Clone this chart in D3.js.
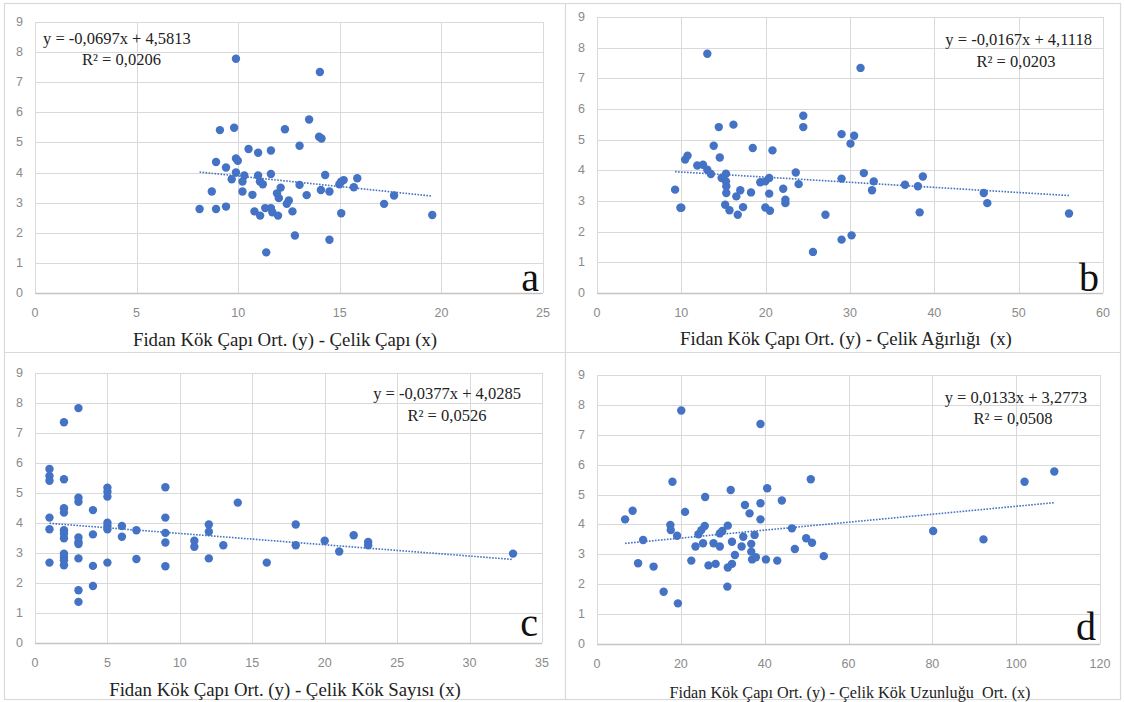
<!DOCTYPE html>
<html lang='tr'>
  <head>
    <meta charset='utf-8'>
    <title>Fidan Kök Çapı</title>
    <script src="https://d3js.org/d3.v7.min.js" charset='utf-8'></script>
    <style type="text/css">
      body { margin: 0; background: #fff; }
      svg { display: block; }
      .grid line { stroke: #d9d9d9; stroke-width: 1px; }
      .tick-label { font-family: 'Liberation Sans', sans-serif; font-size: 12.5px; fill: #8a8a8a; }
      .eq { font-family: 'Liberation Serif', serif; font-size: 16.5px; fill: #222; }
      .title { font-family: 'Liberation Serif', serif; font-size: 18.8px; fill: #222; text-anchor: middle; white-space: pre; }
      .letter { font-family: 'Liberation Serif', serif; font-size: 40px; fill: #111; text-anchor: end; }
      .trend { fill: none; stroke: #4472c4; stroke-width: 1.6px; stroke-dasharray: 1.6 1.4; }
      .dot { fill: #4472c4; }
    </style>
  </head>
  <body>
    <script type="text/javascript">
      var width = 1124, height = 702;

      // y: Fidan Kök Çapı Ort. -- same y values
      var yTicks = [0, 1, 2, 3, 4, 5, 6, 7, 8, 9];

      // panel a: Çelik Çapı
      var aX = [9.89, 14.02, 13.49, 9.10, 9.80, 12.30, 13.98, 14.10, 13.02, 10.51, 10.98, 11.61, 8.91, 9.89, 9.98,
                9.40, 9.89, 9.68, 10.30, 10.21, 10.98, 11.07, 11.21, 11.61, 14.28, 13.02, 12.09, 11.91, 12.00, 8.70,
                10.21, 10.70, 13.37, 14.07, 14.49, 14.98, 15.07, 15.19, 15.69, 15.86, 17.67, 17.18, 12.49, 12.39, 8.10,
                8.91, 9.40, 10.80, 11.08, 11.33, 11.61, 11.68, 11.96, 12.67, 15.07, 19.55, 12.79, 14.49, 11.38];
      var aY = [7.78, 7.34, 5.76, 5.41, 5.49, 5.44, 5.19, 5.13, 4.89, 4.78, 4.66, 4.73, 4.35, 4.47, 4.39,
                4.17, 4.00, 3.78, 3.90, 3.70, 3.90, 3.70, 3.61, 3.95, 3.92, 3.59, 3.50, 3.31, 3.15, 3.37,
                3.37, 3.26, 3.25, 3.42, 3.37, 3.61, 3.70, 3.75, 3.51, 3.81, 3.24, 2.96, 3.07, 2.96, 2.79,
                2.79, 2.87, 2.71, 2.57, 2.82, 2.82, 2.68, 2.57, 2.71, 2.65, 2.59, 1.91, 1.77, 1.35];

      // panel b: Çelik Ağırlığı
      var bX = [13.08, 31.25, 24.46, 24.46, 14.44, 16.18, 29.00, 30.49, 30.06, 13.84, 18.47, 20.81, 14.56, 10.74, 10.45,
                11.89, 12.57, 13.08, 13.50, 15.29, 14.78, 15.29, 15.33, 15.33, 16.52, 16.99, 18.26, 9.26, 9.89, 10.00,
                15.20, 15.71, 16.69, 17.32, 19.36, 19.96, 20.42, 20.42, 19.96, 20.51, 22.08, 22.34, 22.34, 23.57, 23.91,
                27.09, 29.00, 29.00, 30.19, 25.61, 31.64, 32.82, 32.61, 36.52, 38.05, 38.64, 38.26, 45.86, 46.28, 55.97];
      var bY = [7.80, 7.34, 5.78, 5.41, 5.41, 5.49, 5.18, 5.13, 4.87, 4.80, 4.73, 4.65, 4.42, 4.48, 4.35,
                4.16, 4.18, 4.02, 3.88, 3.89, 3.75, 3.64, 3.48, 3.26, 3.15, 3.35, 3.28, 3.37, 2.78, 2.78,
                2.88, 2.70, 2.55, 2.80, 3.61, 3.64, 3.75, 3.24, 2.79, 2.68, 3.40, 3.04, 2.93, 3.93, 3.55,
                2.55, 3.73, 1.74, 1.88, 1.34, 3.91, 3.64, 3.35, 3.53, 3.48, 3.80, 2.63, 3.26, 2.93, 2.59];

      // panel c: Çelik Kök Sayısı
      var cX = [1, 1, 1, 1, 1, 1,
                2, 2, 2, 2, 2, 2, 2, 2, 2, 2, 2,
                3, 3, 3, 3, 3, 3, 3, 3, 3,
                4, 4, 4, 4,
                5, 5, 5, 5, 5, 5, 5,
                6, 6, 7, 7,
                9, 9, 9, 9, 9,
                11, 11, 12, 12, 12, 13, 14, 16, 18, 18, 20, 21, 22, 23, 23, 33];
      var cY = [5.80, 5.57, 5.41, 4.18, 3.79, 2.68,
                7.36, 5.46, 4.49, 4.35, 3.76, 3.65, 3.49, 2.98, 2.87, 2.76, 2.59,
                7.83, 4.84, 4.71, 3.52, 3.37, 3.30, 2.82, 1.76, 1.37,
                4.43, 3.62, 2.57, 1.90,
                5.18, 5.04, 4.88, 4.01, 3.90, 3.79, 2.68,
                3.90, 3.54, 3.76, 2.80,
                5.19, 4.18, 3.67, 3.35, 2.56,
                3.41, 3.21, 3.95, 3.71, 2.82, 3.26, 4.68, 2.68, 3.95, 3.26, 3.41, 3.05, 3.59, 3.37, 3.26, 2.98];

      // panel d: Çelik Kök Uzunluğu Ort.
      var dX = [6.7, 8.5, 11.0, 9.8, 13.5, 15.9, 19.3, 20.1, 18.0, 21.0, 17.5, 17.6, 19.1, 22.5, 23.5,
                24.2, 24.9, 25.7, 25.3, 25.8, 26.6, 27.8, 28.3, 29.3, 29.3, 29.9, 31.2, 31.9, 32.2, 31.1,
                31.2, 32.2, 32.9, 34.5, 34.9, 35.3, 36.4, 36.8, 36.8, 37.0, 37.6, 37.9, 39.0, 39.0, 39.0,
                40.6, 40.3, 43.0, 44.1, 46.5, 47.2, 49.9, 51.3, 51.0, 54.1, 80.2, 92.2, 102.0, 109.1];
      var dY = [4.17, 4.46, 3.48, 2.70, 2.59, 1.75, 1.36, 7.81, 5.43, 4.42, 3.98, 3.81, 3.62, 2.79, 3.26,
                3.67, 3.81, 3.95, 3.37, 4.92, 2.63, 3.37, 2.68, 3.26, 3.70, 3.78, 3.96, 5.15, 3.42, 1.92,
                2.56, 2.68, 2.98, 3.26, 3.59, 4.65, 4.37, 3.35, 3.09, 2.83, 3.65, 2.90, 4.71, 4.17, 7.36,
                5.21, 2.83, 2.79, 4.80, 3.87, 3.18, 3.54, 3.39, 5.51, 2.94, 3.78, 3.50, 5.43, 5.77];

      var xTicksA = [0, 5, 10, 15, 20, 25];
      var xTicksB = [0, 10, 20, 30, 40, 50, 60];
      var xTicksC = [0, 5, 10, 15, 20, 25, 30, 35];
      var xTicksD = [0, 20, 40, 60, 80, 100, 120];

      // trend lines: slope, intercept
      var slopes = [-0.0697, -0.0167, -0.0377, 0.0133];
      var intercepts = [4.5813, 4.1118, 4.0285, 3.2773];
      var equations = ['y = -0,0697x + 4,5813', 'y = -0,0167x + 4,1118', 'y = -0,0377x + 4,0285', 'y = 0,0133x + 3,2773'];
      var rSquared = ['R² = 0,0206', 'R² = 0,0203', 'R² = 0,0526', 'R² = 0,0508'];
      var titles = ['Fidan Kök Çapı Ort. (y) - Çelik Çapı (x)',
                    'Fidan Kök Çapı Ort. (y) - Çelik Ağırlığı  (x)',
                    'Fidan Kök Çapı Ort. (y) - Çelik Kök Sayısı (x)',
                    'Fidan Kök Çapı Ort. (y) - Çelik Kök Uzunluğu  Ort. (x)'];
      var letters = ['a', 'b', 'c', 'd'];

      var panels = [
        { xs: aX, ys: aY, ticks: xTicksA, box: [35, 543, 22, 293],
          eq: [43, 44, 'start'], r2: [82, 65, 'start'], title: [285, 346, 18.8], letterDy: 2 },
        { xs: bX, ys: bY, ticks: xTicksB, box: [597, 1103, 17, 293],
          eq: [1092, 45, 'end'], r2: [1016, 67, 'middle'], title: [846, 345, 18.8], letterDy: 2 },
        { xs: cX, ys: cY, ticks: xTicksC, box: [35, 542, 373, 643],
          eq: [521, 399, 'end'], r2: [447, 421, 'middle'], title: [285, 696, 18.8], letterDy: 7 },
        { xs: dX, ys: dY, ticks: xTicksD, box: [597, 1100, 375, 644],
          eq: [1087, 403, 'end'], r2: [1013, 424, 'middle'], title: [850, 698, 16.2], letterDy: 4 }
      ];

      var svg = d3.select('body').append('svg')
        .attr('width', width)
        .attr('height', height);

      // panel frames
      var frame = svg.append('g').attr('fill', 'none').attr('stroke', '#d9d9d9').attr('stroke-width', 1.2);
      frame.append('rect').attr('x', 4.5).attr('y', 3.5).attr('width', 1116).attr('height', 696);
      frame.append('line').attr('x1', 565.5).attr('x2', 565.5).attr('y1', 3.5).attr('y2', 699.5);
      frame.append('line').attr('x1', 4.5).attr('x2', 1120.5).attr('y1', 352.5).attr('y2', 352.5);

      panels.forEach(function(p, i) {
        var x = d3.scaleLinear().domain([0, d3.max(p.ticks)]).range([p.box[0], p.box[1]]);
        var y = d3.scaleLinear().domain([0, 9]).range([p.box[3], p.box[2]]);
        var g = svg.append('g');

        // gridlines
        var grid = g.append('g').attr('class', 'grid');
        grid.selectAll('.gx').data(p.ticks).enter().append('line')
          .attr('x1', function(d) { return Math.round(x(d)) + 0.5; })
          .attr('x2', function(d) { return Math.round(x(d)) + 0.5; })
          .attr('y1', y(9)).attr('y2', y(0));
        grid.selectAll('.gy').data(yTicks).enter().append('line')
          .attr('x1', x.range()[0]).attr('x2', x.range()[1])
          .attr('y1', function(d) { return Math.round(y(d)) + 0.5; })
          .attr('y2', function(d) { return Math.round(y(d)) + 0.5; });
        // x axis line
        g.append('line')
          .attr('x1', x.range()[0]).attr('x2', x.range()[1])
          .attr('y1', Math.round(y(0)) + 0.5).attr('y2', Math.round(y(0)) + 0.5)
          .attr('stroke', '#c4c4c4').attr('stroke-width', 1.5);

        // tick labels
        g.selectAll('.yl').data(yTicks).enter().append('text')
          .attr('class', 'tick-label')
          .attr('x', x.range()[0] - 12)
          .attr('y', function(d) { return y(d) + 4; })
          .attr('text-anchor', 'end')
          .text(function(d) { return d; });
        g.selectAll('.xl').data(p.ticks).enter().append('text')
          .attr('class', 'tick-label')
          .attr('x', function(d) { return x(d); })
          .attr('y', y(0) + 24)
          .attr('text-anchor', 'middle')
          .text(function(d) { return d; });

        // trend line over the data range
        var x0 = d3.min(p.xs), x1 = d3.max(p.xs);
        var line = d3.line()
          .x(function(d) { return x(d); })
          .y(function(d) { return y(slopes[i] * d + intercepts[i]); });
        g.append('path').attr('class', 'trend').attr('d', line([x0, x1]));

        // points
        g.selectAll('.dot').data(p.xs).enter().append('circle')
          .attr('class', 'dot')
          .attr('cx', function(d) { return x(d); })
          .attr('cy', function(d, j) { return y(p.ys[j]); })
          .attr('r', 4.2);

        // equation and R²
        g.append('text').attr('class', 'eq')
          .attr('x', p.eq[0]).attr('y', p.eq[1]).attr('text-anchor', p.eq[2])
          .text(equations[i]);
        g.append('text').attr('class', 'eq')
          .attr('x', p.r2[0]).attr('y', p.r2[1]).attr('text-anchor', p.r2[2])
          .text(rSquared[i]);

        // panel letter
        g.append('text').attr('class', 'letter')
          .attr('x', x.range()[1] - 4)
          .attr('y', y(0) - p.letterDy)
          .text(letters[i]);

        // axis title (double spaces kept as in the source)
        g.append('text').attr('class', 'title')
          .attr('x', p.title[0]).attr('y', p.title[1])
          .attr('xml:space', 'preserve')
          .style('font-size', p.title[2] + 'px')
          .text(titles[i]);
      });
    </script>
  </body>
</html>
